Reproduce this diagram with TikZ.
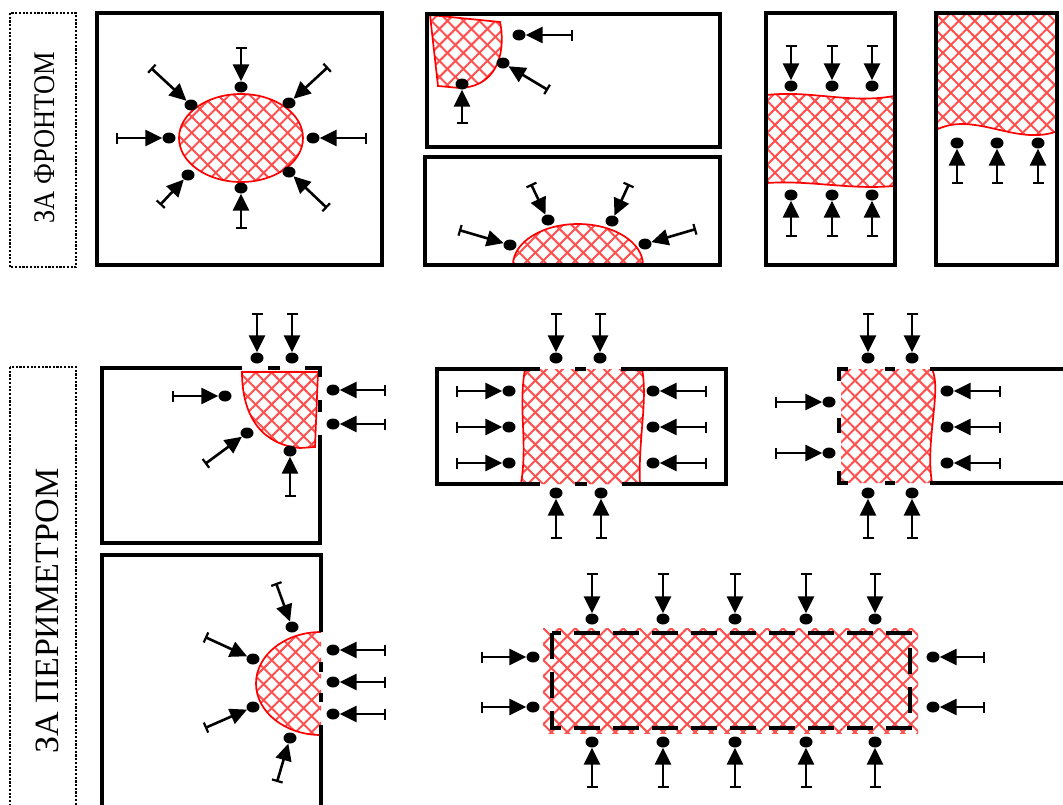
\documentclass[tikz,border=0pt]{standalone}
\usepackage{fontspec}
\setmainfont{Liberation Serif}
\usetikzlibrary{patterns.meta,arrows.meta,shapes.geometric}
\definecolor{firered}{RGB}{255,80,80}
\newcommand\firezone[1]{\path[fireA] #1; \path[fireB] #1;}
\begin{document}
\begin{tikzpicture}[x=1pt,y=-1pt,
 box/.style={line width=3.5pt},
 fireA/.style={pattern={Lines[angle=45,distance=11.3pt,line width=2pt]},pattern color=firered},
 fireB/.style={pattern={Lines[angle=-45,distance=11.3pt,line width=2pt]},pattern color=firered},
 redline/.style={draw=red,line width=1.7pt},
 dot/.style={ellipse,fill=black,minimum width=13pt,minimum height=11pt,inner sep=0pt},
 push/.style={line width=2.6pt,{Bar[width=11pt,line width=2.2pt]}-{Triangle[length=17pt,width=16pt]}},
 frame/.style={draw,line width=2.2pt,dash pattern=on 2.2pt off 1.5pt},
 lbl/.style={rotate=90,inner sep=0pt,anchor=base}
]
\useasboundingbox (0,0) rectangle (1063,804);

% ---------- fire zones ----------
% A
\firezone{(241,138) ellipse [x radius=62pt,y radius=44pt]}
\draw[redline] (241,138) ellipse [x radius=62pt,y radius=44pt];
% B1
\firezone{(430,15) -- (500,22) .. controls (505,45) and (502,86) .. (460,88) -- (438,86) -- cycle}
\draw[redline] (430,15) -- (500,22) .. controls (505,45) and (502,86) .. (460,88) -- (438,86) -- cycle;
% B2
\firezone{(513,265) arc[start angle=180,end angle=0,x radius=65pt,y radius=41pt] -- cycle}
\draw[redline] (513,265) arc[start angle=180,end angle=0,x radius=65pt,y radius=41pt];
% C
\firezone{(767,95) .. controls (810,90) and (850,104) .. (894,96) -- (894,186) .. controls (850,190) and (810,180) .. (767,183) -- cycle}
\draw[redline] (767,95) .. controls (810,90) and (850,104) .. (894,96);
\draw[redline] (767,183) .. controls (810,180) and (850,190) .. (894,186);
% D
\firezone{(938,15) -- (1055,15) -- (1055,132) .. controls (1015,145) and (975,112) .. (938,129) -- cycle}
\draw[redline] (1055,132) .. controls (1015,145) and (975,112) .. (938,129);
% E
\firezone{(242,372) .. controls (242,420) and (265,445) .. (300,448) -- (315,447) -- (318,372) -- cycle}
\draw[redline] (318,372) -- (242,372) .. controls (242,420) and (265,445) .. (300,448) -- (315,447) -- (318,372);
% F
\firezone{(525,369) .. controls (518,410) and (528,440) .. (521,484) -- (640,484) .. controls (638,440) and (648,400) .. (642,369) -- cycle}
\draw[redline] (525,369) .. controls (518,410) and (528,440) .. (521,484);
\draw[redline] (642,369) .. controls (648,400) and (638,440) .. (640,484);
% G
\firezone{(841,369) -- (932,369) .. controls (942,390) and (925,440) .. (932,483) -- (841,483) -- cycle}
\draw[redline] (932,369) .. controls (942,390) and (925,440) .. (932,483);
% H
\firezone{(321,632) arc[start angle=90,end angle=270,x radius=65pt,y radius=51.5pt] -- cycle}
\draw[redline] (321,632) arc[start angle=90,end angle=270,x radius=65pt,y radius=51.5pt];
% I
\firezone{(543,628) rectangle (918,733)}

% ---------- walls ----------
\draw[box] (97,13) rectangle (382,265);
\draw[box] (427,14) rectangle (720,147);
\draw[box] (425,157) rectangle (720,265);
\draw[box] (766,13) rectangle (895,265);
\draw[box] (936,13) rectangle (1057,265);
% E
\draw[box] (242,368) -- (102,368) -- (102,543) -- (320,543) -- (320,435);
\draw[box] (268,368) -- (280,368);
\draw[box] (305,368) -- (320,368) -- (320,377);
\draw[box] (320,400) -- (320,412);
% F
\draw[box] (540,369) -- (437,369) -- (437,484) -- (540,484);
\draw[box] (575,369) -- (586,369);
\draw[box] (621,369) -- (726,369) -- (726,484) -- (622,484);
\draw[box] (575,484) -- (587,484);
% G
\draw[box] (1066,369) -- (930,369);
\draw[box] (885,369) -- (895,369);
\draw[box] (848,369) -- (839,369) -- (839,381);
\draw[box] (839,418) -- (839,433);
\draw[box] (839,471) -- (839,483) -- (848,483);
\draw[box] (885,483) -- (895,483);
\draw[box] (930,483) -- (1066,483);
% H
\draw[box] (102,808) -- (102,555) -- (321,555) -- (321,632);
\draw[box] (321,662) -- (321,672);
\draw[box] (321,693) -- (321,702);
\draw[box] (321,725) -- (321,808);
% I
\draw[box,dash pattern=on 26pt off 13pt] (552,633) rectangle (910,728);

% ---------- dots and pressure arrows ----------
\foreach \n/\p/\q/\r/\s in {
 a1/241/87/241/47, a2/241/188/241/229, a3/169/138/116/138, a4/313/138/367/138,
 a5/191/105/151/68, a6/289/103/328/67, a7/188/175/160/205, a8/289/172/327/208,
 b1/462/84/462/124, b2/503/63/548/90, b3/519/35/573/35,
 c1/510/245/459/230, c2/548/220/531/184, c3/612/221/629/184, c4/645/244/696/229,
 d1/791/86/791/45, d2/832/86/832/45, d3/872/86/872/45,
 d4/791/195/791/237, d5/832/195/832/237, d6/872/195/872/237,
 e1/957/143/957/184, e2/997/143/997/184, e3/1038/143/1038/184,
 f1/257/358/257/313, f2/292/358/292/313, f3/333/390/386/390, f4/333/424/386/424,
 f5/225/396/172/396, f6/247/433/205/464, f7/290/451/290/497,
 g1/556/358/556/313, g2/600/358/600/313, g3/556/493/556/539, g4/601/493/601/539,
 g5/509/391/456/391, g6/509/427/456/427, g7/509/463/456/463,
 g8/653/391/707/391, g9/653/427/707/427, g10/653/463/707/463,
 h1/868/358/868/313, h2/912/358/912/313, h3/868/493/868/539, h4/912/493/912/539,
 h5/829/402/775/402, h6/829/453/775/453,
 h7/947/391/1001/391, h8/947/427/1001/427, h9/947/463/1001/463,
 k1/292/627/276/583, k2/253/659/205/637, k3/253/707/205/728, k4/290/738/277/782,
 k5/333/650/386/650, k6/333/682/386/682, k7/333/714/386/714,
 m1/592/619/592/573, m2/663/619/663/573, m3/735/619/735/573, m4/806/619/806/573, m5/875/619/875/573,
 m6/592/742/592/788, m7/663/742/663/788, m8/735/742/735/788, m9/806/742/806/788, m10/875/742/875/788,
 m11/533/657/481/657, m12/533/707/481/707, m13/933/657/985/657, m14/933/707/985/707}
{
 \node[dot] (\n) at (\p,\q) {};
 \coordinate (\n s) at (\r,\s);
 \draw[push] (\n s) -- (\n);
}

% ---------- labels ----------
\draw[frame] (10,13) rectangle (76,267);
\draw[frame] (10,367) rectangle (76,810);
\node[lbl,font=\fontsize{30}{36}\selectfont] (t1) at (54,138) {\scalebox{0.88}[1]{ЗА ФРОНТОМ}};
\node[lbl,font=\fontsize{34}{40}\selectfont] (t2) at (58,611) {ЗА ПЕРИМЕТРОМ};
\end{tikzpicture}
\end{document}
